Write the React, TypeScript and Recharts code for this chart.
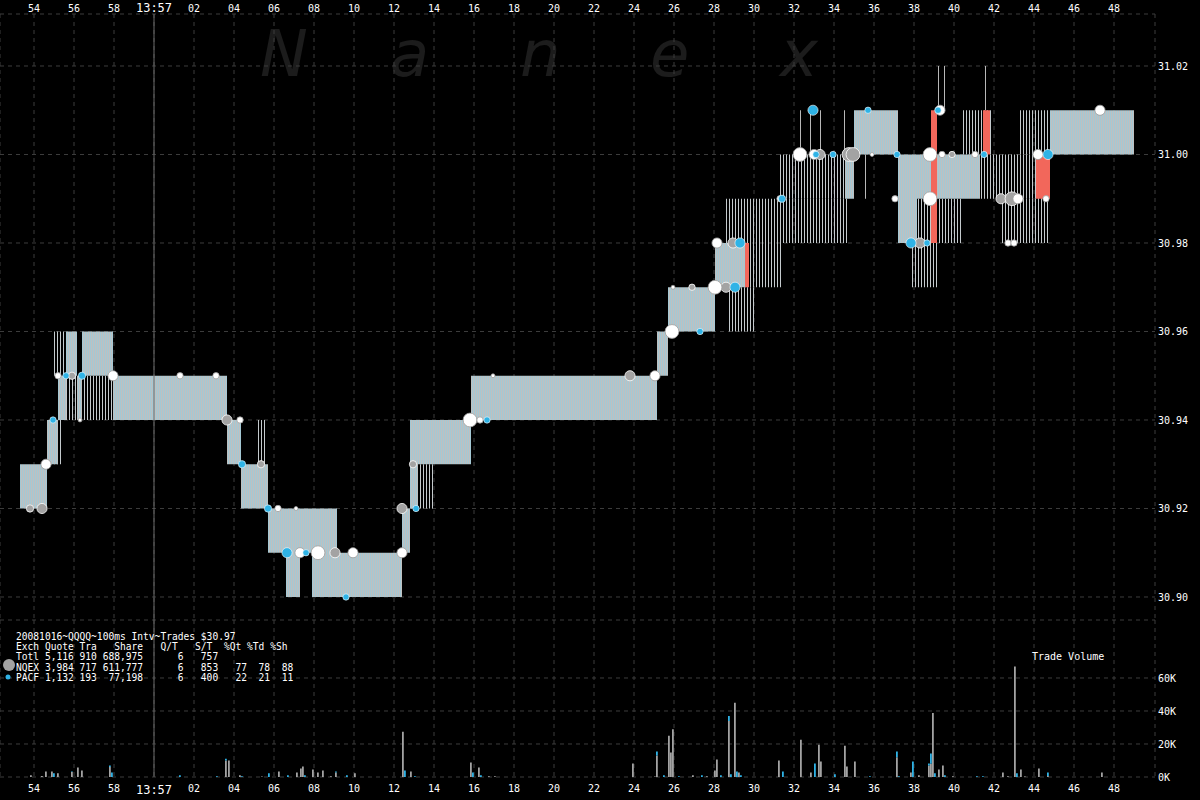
import React from 'react';
import {
  ComposedChart, Area, Scatter, Bar, XAxis, YAxis, ZAxis,
  CartesianGrid, ReferenceArea, ReferenceLine,
} from 'recharts';

// ---------- axis ticks ----------
const xTicks = [-6, -4, -2, 0, 2, 4, 6, 8, 10, 12, 14, 16, 18, 20, 22, 24, 26, 28, 30, 32, 34, 36, 38, 40, 42, 44, 46, 48];
const xTickLabels = ['54', '56', '58', '13:57', '02', '04', '06', '08', '10', '12', '14', '16', '18', '20', '22', '24', '26', '28', '30', '32', '34', '36', '38', '40', '42', '44', '46', '48'];
const priceTicks = [30.9, 30.92, 30.94, 30.96, 30.98, 31.0, 31.02];
const volumeTicks = [0, 20000, 40000, 60000];
const volumeTickLabels = ['0K', '20K', '40K', '60K'];

// ---------- NBBO spread (seconds after 13:57:00, bid, ask) ----------
const quoteTimes = [-6.7, -5.35, -4.8, -4.4, -3.85, -3.6, -2.05, 3.65, 4.35, 5.7, 6.6, 7.3, 7.9, 9.15, 12.4, 12.8, 13.2, 15.85, 25.15, 25.7, 28.05, 29.6, 29.61, 34.55, 35.0, 37.2, 38.15, 41.3, 41.31, 44.8, 49.0];
const quoteBids = [30.92, 30.93, 30.94, 30.95, 30.94, 30.95, 30.94, 30.93, 30.92, 30.91, 30.90, 30.91, 30.90, 30.90, 30.91, 30.92, 30.93, 30.94, 30.95, 30.96, 30.97, 30.97, null, 30.99, 31.00, 30.98, 30.99, 30.99, null, 31.00, 31.00];
const quoteAsks = [30.93, 30.94, 30.95, 30.96, 30.95, 30.96, 30.95, 30.94, 30.93, 30.92, 30.92, 30.92, 30.92, 30.91, 30.92, 30.94, 30.94, 30.95, 30.96, 30.97, 30.98, 30.98, null, 31.00, 31.01, 31.00, 31.00, 31.00, null, 31.01, 31.01];

// flickering quotes: [start, end, low, high]
const flickerZones = [
  [-5.4, -4.55, 30.93, 30.94],
  [-5.05, -4.4, 30.95, 30.96],
  [-4.55, -2.05, 30.94, 30.95],
  [5.15, 5.65, 30.93, 30.94],
  [12.8, 13.95, 30.92, 30.93],
  [28.7, 30.05, 30.96, 30.97],
  [29.6, 31.4, 30.97, 30.98],
  [28.55, 34.65, 30.98, 30.99],
  [31.2, 34.55, 30.99, 31.0],
  [37.8, 39.2, 30.97, 30.98],
  [38.15, 40.4, 30.98, 30.99],
  [40.45, 41.95, 31.0, 31.01],
  [41.3, 44.8, 30.99, 31.0],
  [42.3, 44.8, 30.98, 30.99],
  [43.3, 44.8, 31.0, 31.01],
];
// locked / crossed quotes
const lockedZones = [
  [29.55, 29.75, 30.97, 30.98],
  [38.85, 39.15, 30.98, 31.01],
  [41.45, 41.8, 31.0, 31.01],
  [44.1, 44.8, 30.99, 31.0],
];
// single quote spikes
const spikeZones = [
  [32.3, 32.35, 31.0, 31.01],
  [32.8, 32.85, 31.0, 31.01],
  [33.3, 33.35, 31.0, 31.01],
  [34.5, 34.55, 31.0, 31.01],
  [39.2, 39.25, 31.01, 31.02],
  [39.5, 39.55, 31.01, 31.02],
  [41.55, 41.6, 31.01, 31.02],
  [35.55, 35.6, 30.99, 31.0],
];

// ---------- trades: [time, price, shares] ----------
const otherTrades = [
  [-5.4, 30.93, 800], [-4.8, 30.95, 300], [-3.7, 30.94, 100], [-2.05, 30.95, 800], [1.3, 30.95, 300],
  [3.1, 30.95, 300], [4.3, 30.94, 300], [6.2, 30.92, 300], [7.1, 30.92, 100], [7.3, 30.91, 800],
  [8.2, 30.91, 1500], [9.95, 30.91, 800], [12.4, 30.91, 800], [15.8, 30.94, 1500], [16.3, 30.94, 300],
  [16.95, 30.95, 100], [25.05, 30.95, 800], [25.9, 30.96, 1500], [25.95, 30.97, 100], [28.05, 30.97, 1500],
  [28.15, 30.98, 800], [31.3, 30.99, 300], [32.3, 31.0, 1500], [33.0, 31.0, 800], [35.9, 31.0, 100],
  [37.05, 30.99, 300], [38.8, 31.0, 1500], [38.8, 30.99, 1500], [39.3, 31.01, 800], [39.4, 31.0, 300],
  [41.05, 31.0, 300], [42.7, 30.98, 300], [43.0, 30.98, 300], [43.2, 30.99, 800], [44.2, 31.0, 800],
  [44.6, 30.99, 300], [47.3, 31.01, 800],
];
const nqexTrades = [
  [-6.2, 30.92, 400], [-5.6, 30.92, 800], [-4.1, 30.95, 400], [3.65, 30.94, 800], [5.35, 30.93, 400],
  [9.05, 30.91, 800], [12.4, 30.92, 800], [12.95, 30.93, 400], [23.8, 30.95, 800], [26.9, 30.97, 300],
  [28.6, 30.97, 800], [28.95, 30.98, 800], [33.3, 31.0, 800], [34.75, 31.0, 1500], [34.95, 31.0, 1500],
  [38.3, 30.98, 800], [39.9, 31.0, 300], [42.35, 30.99, 800], [42.9, 30.99, 1500],
];
const pacfTrades = [
  [-5.05, 30.94, 300], [-4.4, 30.95, 300], [-3.6, 30.95, 400], [4.4, 30.93, 400], [5.7, 30.92, 400],
  [6.65, 30.91, 800], [7.6, 30.91, 300], [9.6, 30.9, 300], [13.1, 30.92, 300], [16.65, 30.94, 300],
  [27.3, 30.96, 300], [29.05, 30.97, 800], [29.3, 30.98, 800], [31.4, 30.99, 400], [32.95, 31.01, 800],
  [33.1, 31.0, 300], [33.95, 31.0, 300], [35.7, 31.01, 300], [37.15, 31.0, 300], [37.85, 30.98, 800],
  [38.65, 30.98, 300], [39.2, 31.01, 300], [41.5, 31.0, 300], [44.7, 31.0, 800],
];

// ---------- trade volume: [time, NQEX shares, PACF shares] ----------
const volumeRows = [
  [-6.15, 1000, 0], [-5.6, 600, 0], [-5.4, 3400, 0], [-5.1, 3400, 0], [-5.0, 0, 2200], [-4.8, 2200, 0],
  [-4.1, 3000, 400], [-3.8, 5800, 0], [-3.6, 4000, 0], [-2.2, 6000, 1000], [-2.1, 0, 2800], [1.3, 0, 1000],
  [3.15, 0, 400], [3.6, 10000, 1000], [3.75, 10000, 0], [4.3, 1000, 0], [4.4, 0, 400], [5.4, 300, 0],
  [5.75, 0, 2200], [6.25, 3400, 0], [6.7, 0, 1000], [7.15, 2800, 0], [7.35, 5200, 0], [7.45, 6400, 0],
  [7.55, 0, 1000], [7.95, 4600, 0], [8.2, 2800, 0], [8.45, 4000, 0], [8.85, 400, 0], [9.1, 2800, 600],
  [9.65, 0, 1000], [10.05, 2200, 0], [12.45, 27400, 0], [12.55, 0, 4000], [12.85, 3400, 0], [13.05, 0, 400],
  [15.85, 8800, 0], [15.95, 0, 2800], [16.25, 5800, 0], [16.35, 0, 1000], [16.75, 400, 0], [17.05, 400, 0],
  [23.95, 8200, 0], [25.05, 300, 0], [25.15, 13000, 2400], [25.5, 0, 1000], [25.75, 25000, 0], [25.85, 14800, 0],
  [25.95, 29000, 0], [26.25, 0, 400], [26.95, 1000, 0], [27.4, 0, 1000], [27.65, 400, 0], [28.05, 4000, 0],
  [28.15, 10600, 0], [28.35, 0, 1000], [28.75, 34000, 3000], [28.85, 0, 1600], [29.05, 45000, 0], [29.15, 0, 3400],
  [29.25, 2800, 0], [29.35, 0, 1000], [31.25, 10000, 0], [31.45, 0, 3400], [32.35, 22600, 0], [32.85, 2800, 0],
  [33.05, 0, 8200], [33.25, 19600, 0], [33.35, 9400, 0], [34.05, 0, 1600], [34.55, 19000, 0], [34.65, 6400, 0],
  [35.05, 9400, 0], [35.8, 0, 400], [37.15, 12000, 3400], [37.25, 0, 400], [37.85, 2800, 0], [37.95, 0, 9400],
  [38.25, 1000, 0], [38.75, 7000, 1200], [38.85, 8000, 6200], [38.95, 38800, 0], [39.05, 0, 2200], [39.25, 4600, 0],
  [39.45, 7000, 0], [39.55, 0, 1000], [39.95, 400, 0], [41.15, 0, 400], [41.45, 0, 400], [42.45, 2800, 0],
  [42.7, 400, 0], [43.05, 67000, 0], [43.15, 0, 2200], [43.35, 4600, 0], [43.55, 300, 0], [44.25, 5200, 0],
  [44.7, 600, 2200], [47.4, 2800, 0],
];

const infoLines = [
  '20081016~QQQQ~100ms Intv~Trades $30.97',
  'Exch Quote Tra   Share   Q/T   S/T  %Qt %Td %Sh',
  'Totl 5,116 910 688,975      6   757',
  'NQEX 3,984 717 611,777      6   853   77  78  88',
  'PACF 1,132 193  77,198      6   400   22  21  11',
];
const watermarkLetters = ['N', 'a', 'n', 'e', 'x'];

// ---------- derived tables ----------
const coreData = quoteTimes.map((t, i) => ({
  t,
  band: quoteBids[i] == null ? null : [quoteBids[i], quoteAsks[i]],
}));
const toTrade = (r: number[]) => ({ t: r[0], p: r[1], z: r[2] });
const volumeData = volumeRows.map((r) => ({ t: r[0], nq: r[1], pa: r[2] }));

const X_MIN = -7.7;
const X_MAX = 50.05;
const P_MIN = 30.8948;
const P_MAX = 31.03175;
const V_MAX = 95150;
const FONT = '"DejaVu Sans Mono", monospace';
const GRID = '#3d3d3d';
const GRAY = '#a3a3a3';
const BLUE = '#2fb3e6';

const fmtX = (v: number) => {
  const i = xTicks.indexOf(v);
  return i >= 0 ? xTickLabels[i] : '';
};
const fmtV = (v: number) => {
  const i = volumeTicks.indexOf(v);
  return i >= 0 ? volumeTickLabels[i] : '';
};

const XTick = (props: any) => {
  const { x, y, payload, vAnchorTop } = props;
  const label = fmtX(payload.value);
  const big = label.length > 2;
  return (
    <text x={x} y={y} textAnchor="middle" dominantBaseline={vAnchorTop ? 'auto' : 'hanging'}
      fill="#ffffff" fontFamily={FONT} fontSize={big ? 12 : 10}>{label}</text>
  );
};

export default function App() {
  return (
    <div style={{ position: 'fixed', left: 0, top: 0, width: 1200, height: 800, background: '#000', overflow: 'hidden' }}>
      <svg width={1200} height={800} style={{ position: 'absolute', left: 0, top: 0 }}>
        {watermarkLetters.map((ch, i) => (
          <text key={i} x={260 + i * 130} y={76} fill="#1c1c1c" fontSize={64}
            fontStyle="italic" fontFamily="'DejaVu Sans', sans-serif">{ch}</text>
        ))}
      </svg>

      <div style={{ position: 'absolute', left: 0, top: 0 }}>
        <ComposedChart width={1200} height={620} data={coreData} margin={{ top: 0, right: 0, bottom: 0, left: 0 }}>
          <defs>
            <pattern id="quoteStripe" width="2" height="8" patternUnits="userSpaceOnUse">
              <rect x="0" y="0" width="1" height="8" fill="#a4c8d4" />
              <rect x="1" y="0" width="1" height="8" fill="#bfc0c0" />
            </pattern>
            <pattern id="flickerStripe" width="3" height="8" patternUnits="userSpaceOnUse">
              <rect x="0" y="0" width="1" height="8" fill="#c4cacd" />
            </pattern>
          </defs>
          <CartesianGrid stroke={GRID} strokeDasharray="4 4" />
          <XAxis dataKey="t" type="number" orientation="top" domain={[X_MIN, X_MAX]} ticks={xTicks}
            allowDataOverflow height={14} tickSize={0} tickMargin={2} axisLine={false}
            tick={<XTick vAnchorTop />} interval={0} />
          <YAxis type="number" orientation="right" domain={[P_MIN, P_MAX]} ticks={priceTicks}
            allowDataOverflow width={45} tickSize={0} tickMargin={3} axisLine={false}
            tickFormatter={(v: number) => v.toFixed(2)}
            tick={{ fill: '#ffffff', fontSize: 10, fontFamily: FONT }} interval={0} />
          <ZAxis dataKey="z" type="number" domain={[100, 1500]} range={[12, 150]} />
          <ReferenceLine x={0} stroke="#6a6a6a" />
          {flickerZones.map((z, i) => (
            <ReferenceArea key={'f' + i} x1={z[0]} x2={z[1]} y1={z[2]} y2={z[3]}
              fill="url(#flickerStripe)" fillOpacity={1} stroke="none" />
          ))}
          <Area type="stepAfter" dataKey="band" fill="url(#quoteStripe)" fillOpacity={1} stroke="none"
            isAnimationActive={false} connectNulls={false} activeDot={false} dot={false} />
          {spikeZones.map((z, i) => (
            <ReferenceArea key={'s' + i} x1={z[0]} x2={z[1]} y1={z[2]} y2={z[3]}
              fill="#b8b8b8" fillOpacity={1} stroke="none" />
          ))}
          {lockedZones.map((z, i) => (
            <ReferenceArea key={'l' + i} x1={z[0]} x2={z[1]} y1={z[2]} y2={z[3]}
              fill="#f2675b" fillOpacity={1} stroke="none" />
          ))}
          <Scatter data={nqexTrades.map(toTrade)} dataKey="p" fill={GRAY} stroke="#ffffff" strokeWidth={0.8} isAnimationActive={false} />
          <Scatter data={otherTrades.map(toTrade)} dataKey="p" fill="#ffffff" stroke="#9c9c9c" strokeWidth={0.8} isAnimationActive={false} />
          <Scatter data={pacfTrades.map(toTrade)} dataKey="p" fill={BLUE} stroke="#ffffff" strokeWidth={0.6} isAnimationActive={false} />
        </ComposedChart>
      </div>

      <div style={{ position: 'absolute', left: 0, top: 620 }}>
        <ComposedChart width={1200} height={180} data={volumeData} margin={{ top: 0, right: 0, bottom: 0, left: 0 }}>
          <CartesianGrid stroke={GRID} strokeDasharray="4 4" />
          <XAxis dataKey="t" type="number" domain={[X_MIN, X_MAX]} ticks={xTicks} allowDataOverflow
            height={23} tickSize={0} tickMargin={8} axisLine={false} tick={<XTick />} interval={0} />
          <YAxis type="number" orientation="right" domain={[0, V_MAX]} ticks={volumeTicks} allowDataOverflow
            width={45} tickSize={0} tickMargin={3} axisLine={false} tickFormatter={fmtV}
            tick={{ fill: '#ffffff', fontSize: 10, fontFamily: FONT }} interval={0} />
          <ReferenceLine x={0} stroke="#6a6a6a" />
          <Bar dataKey="nq" stackId="v" fill={GRAY} barSize={2} isAnimationActive={false} />
          <Bar dataKey="pa" stackId="v" fill={BLUE} barSize={2} isAnimationActive={false} />
        </ComposedChart>
      </div>

      <div style={{
        position: 'absolute', left: 16, top: 632, color: '#ffffff', fontFamily: FONT,
        fontSize: 9.6, lineHeight: '10.2px', whiteSpace: 'pre',
      }}>
        {infoLines.map((l, i) => <div key={i}>{l}</div>)}
      </div>
      <svg width={20} height={30} style={{ position: 'absolute', left: 0, top: 655 }}>
        <circle cx={9} cy={10} r={6} fill={GRAY} />
        <circle cx={8} cy={22} r={2.5} fill={BLUE} />
      </svg>
      <div style={{
        position: 'absolute', left: 1032, top: 651, color: '#ffffff', fontFamily: FONT, fontSize: 10,
      }}>Trade Volume</div>
    </div>
  );
}
